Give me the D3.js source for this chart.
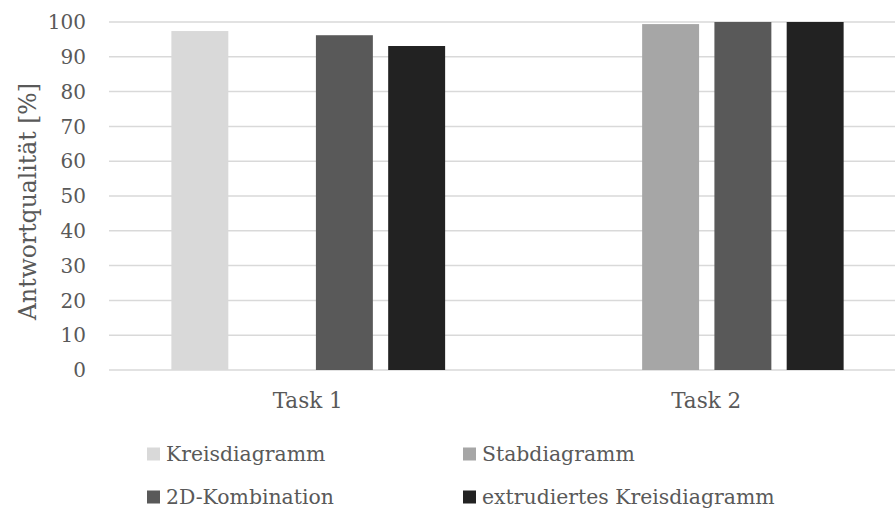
<!DOCTYPE html>
<html>
<head>
<meta charset="utf-8">
<script src="https://cdn.jsdelivr.net/npm/d3@7"></script>
<style>
  html, body { margin: 0; padding: 0; background: #fff; }
  svg { display: block; }
  text { font-family: "DejaVu Serif", serif; fill: #595959; }
</style>
</head>
<body>
<svg id="chart" width="895" height="511"></svg>
<script>
// Tasks along the x axis
const tasks = ["Task 1", "Task 2"];
// Chart types (series) and their fills
const seriesNames = ["Kreisdiagramm", "Stabdiagramm", "2D-Kombination", "extrudiertes Kreisdiagramm"];
const seriesColors = ["#d9d9d9", "#a6a6a6", "#595959", "#222222"];
// Answer quality in percent per series, one entry per task (null = no bar)
const kreisValues = [97.4, null];
const stabValues = [null, 99.4];
const kombiValues = [96.2, 100];
const extrudiertValues = [93.1, 100];
const yTicks = [0, 10, 20, 30, 40, 50, 60, 70, 80, 90, 100];

const valuesBySeries = [kreisValues, stabValues, kombiValues, extrudiertValues];

const svg = d3.select("#chart");
const plot = { left: 109, right: 906, top: 22, bottom: 370 };

const x0 = d3.scaleBand().domain(tasks).range([plot.left, plot.right]).padding(0);
const x1 = d3.scaleBand().domain(seriesNames).range([0, x0.bandwidth()])
  .paddingInner(0.212).paddingOuter(0.863);
const y = d3.scaleLinear().domain([0, 100]).range([plot.bottom, plot.top]);

// Horizontal gridlines
svg.append("g").selectAll("line").data(yTicks).join("line")
  .attr("x1", plot.left).attr("x2", plot.right)
  .attr("y1", d => y(d)).attr("y2", d => y(d))
  .attr("stroke", "#d9d9d9").attr("stroke-width", 1.5);

// Y tick labels
svg.append("g").selectAll("text").data(yTicks).join("text")
  .attr("x", 86).attr("y", d => y(d)).attr("dy", "0.36em")
  .attr("text-anchor", "end").attr("font-size", 20)
  .text(d => d);

// Y axis title
svg.append("text")
  .attr("transform", `translate(36,201.5) rotate(-90)`)
  .attr("text-anchor", "middle").attr("font-size", 23.5)
  .text("Antwortqualität [%]");

// Bars
const rows = [];
tasks.forEach((t, i) => {
  seriesNames.forEach((s, j) => {
    const v = valuesBySeries[j][i];
    if (v != null) rows.push({ task: t, series: s, value: v, color: seriesColors[j] });
  });
});
svg.append("g").selectAll("rect").data(rows).join("rect")
  .attr("x", d => x0(d.task) + x1(d.series))
  .attr("width", x1.bandwidth())
  .attr("y", d => y(d.value))
  .attr("height", d => y(0) - y(d.value))
  .attr("fill", d => d.color);

// Category labels
svg.append("g").selectAll("text").data(tasks).join("text")
  .attr("x", d => x0(d) + x0.bandwidth() / 2 - 0.5)
  .attr("y", 408).attr("text-anchor", "middle").attr("font-size", 21.5)
  .text(d => d);

// Legend (2 columns x 2 rows)
const legendPos = [
  { mx: 147, ty: 454 }, { mx: 463, ty: 454 },
  { mx: 147, ty: 497 }, { mx: 463, ty: 497 }
];
const legend = svg.append("g").selectAll("g").data(seriesNames).join("g")
  .attr("transform", (d, i) => `translate(${legendPos[i].mx},${legendPos[i].ty})`);
legend.append("rect").attr("x", 0).attr("y", -6.5).attr("width", 13).attr("height", 13)
  .attr("fill", (d, i) => seriesColors[i]);
legend.append("text").attr("x", 19).attr("y", 0).attr("dy", "0.36em")
  .attr("font-size", 20.4).text(d => d);
</script>
</body>
</html>
